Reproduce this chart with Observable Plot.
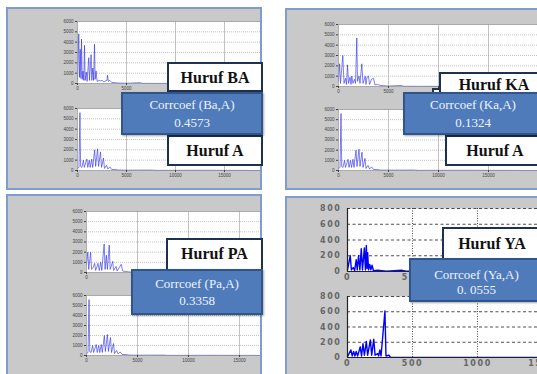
<!DOCTYPE html>
<html><head><meta charset="utf-8">
<script src="https://cdn.jsdelivr.net/npm/d3@7"></script>
<script src="https://cdn.jsdelivr.net/npm/@observablehq/plot@0.6"></script>
<style>
html,body{margin:0;padding:0;background:#fff;}
#stage{position:relative;width:537px;height:374px;overflow:hidden;background:#fff;}
.panel{position:absolute;background:#c9c9c9;overflow:hidden;}
.pborder{position:absolute;left:0;top:0;right:0;bottom:0;border:2px solid #7d9dd1;box-sizing:border-box;pointer-events:none;}
.name{position:absolute;background:#fff;border:2px solid #1e3150;box-sizing:border-box;font-family:"Liberation Serif","Times New Roman","DejaVu Serif",serif;font-weight:bold;font-size:16px;color:#111;display:flex;align-items:center;justify-content:center;white-space:nowrap;}
.corr{position:absolute;background:#4f7bbb;border:2px solid #30558a;box-sizing:border-box;font-family:"Liberation Serif","Times New Roman","DejaVu Serif",serif;font-size:13px;color:#eef3fb;display:flex;flex-direction:column;align-items:center;justify-content:center;white-space:nowrap;box-shadow:1px 1px 2px rgba(0,0,0,0.35);}
</style>
</head><body>
<div id="stage"></div>
<script>
// ---- data (frequency Hz, amplitude) ----
const freqBA = [0,130,200,280,350,410,480,560,640,714,780,900,980,1150,1220,1390,1460,1560,1640,1735,1800,1900,2000,2200,2350,2500,2700,2850,3000,3060,3150,3300,3500,3800,4200,5000,6400,6600,20000];
const ampBA  = [300,4800,600,3300,500,4300,400,1200,300,3700,300,1100,200,2500,300,2800,300,1500,300,3800,400,1200,200,300,250,300,150,250,300,800,200,300,100,80,40,20,80,10,0];

const freqA = [0,150,250,320,450,600,700,950,1050,1200,1300,1450,1550,1750,1850,2050,2150,2350,2450,2650,2750,2950,3100,3300,3500,3800,4200,5000,7500,8000,12000,20000];
const ampA  = [200,300,5600,400,300,1000,300,1100,300,1000,300,1100,300,2000,400,2100,400,1800,300,1200,200,500,150,350,100,100,40,30,40,10,20,0];

const freqKA = [0,100,200,430,550,700,800,900,1000,1150,1250,1330,1450,1600,1700,1830,1900,2050,2150,2330,2450,2670,2750,2850,3000,3100,3300,3500,3650,3900,4200,5000,6300,6500,20000];
const ampKA  = [500,2200,300,3000,300,800,200,2100,300,900,200,1000,300,700,300,4700,500,1000,300,2200,300,1000,200,900,1000,200,700,800,150,200,100,40,100,20,0];

const freqPA = [0,130,220,400,500,650,800,900,1130,1250,1400,1500,1730,1820,1950,2050,2230,2320,2570,2660,2900,3000,3400,3550,3800,4300,5000,20000];
const ampPA  = [800,2000,300,2000,300,500,900,200,900,200,1000,200,2800,300,1700,300,2700,300,1100,200,600,150,800,150,100,40,20,0];

const freqYA = [0,21,30,45,55,67,75,85,95,106,115,130,138,145,150,155,162,171,180,189,200,230,300,420,450,2000];
const ampYA  = [20,200,20,50,10,150,20,200,20,290,20,300,20,330,40,240,20,90,20,80,10,15,5,15,5,0];

const freqA2 = [0,26,36,47,57,67,78,98,108,119,130,145,155,176,186,202,212,233,240,249,258,288,296,319,330,2000];
const ampA2  = [10,100,20,80,20,80,20,140,20,180,30,210,30,230,30,240,30,50,20,100,20,610,20,30,5,0];

const ticksBig = [0,1000,2000,3000,4000,5000,6000];
const ticksHz = [0,5000,10000,15000];
const gridHz = [5000,10000,15000];
const ticksSmallY = [0,200,400,600,800];
const ticksSmallX = [0,500,1000,1500];

const labels = [
  {name:"Huruf BA", corr:"Corrcoef (Ba,A)", val:"0.4573", second:"Huruf A"},
  {name:"Huruf KA", corr:"Corrcoef (Ka,A)", val:"0.1324", second:"Huruf A"},
  {name:"Huruf PA", corr:"Corrcoef (Pa,A)", val:"0.3358"},
  {name:"Huruf YA", corr:"Corrcoef (Ya,A)", val:"0. 0555"}
];

// ---- layout ----
const stage = document.getElementById("stage");
const panels = [
  {l:6,t:7,w:256,h:183},
  {l:285,t:8,w:260,h:182},
  {l:6,t:194,w:256,h:190},
  {l:285,t:196,w:260,h:190}
];
const pEls = panels.map(p=>{
  const d=document.createElement("div");
  d.className="panel";
  Object.assign(d.style,{left:p.l+"px",top:p.t+"px",width:p.w+"px",height:p.h+"px"});
  stage.appendChild(d);
  return d;
});

const styleA = {ml:32,mt:4,mr:2,mb:12,fs:"4.5px",ff:"Liberation Sans",fw:"normal",tc:"#444",ls:"0px",
  gc:"#9a9a9a",gdash:"1,1",gxdash:null,gw:0.6,lc:"#2a2ae8",lw:0.75,lo:0.8,ts:2,tp:2,tpx:1,frame:"#9a9a9a",axisLine:null};
const styleB = {ml:44,mt:6,mr:2,mb:14,fs:"8px",ff:"DejaVu Sans",fw:"bold",tc:"#666",ls:"1.6px",
  gc:"#222",gdash:"3,2.5",gxdash:"1,1.5",gw:0.8,lc:"#0000ff",lw:1.4,lo:1,ts:0,tp:6,tpx:3,frame:null,axisLine:"#222"};

function spec(pi, o, s){
  const p = panels[pi];
  const data = o.f.map((f,i)=>({f, a:o.a[i]}));
  const marks = [
    Plot.frame({fill:"#fff", stroke:"none"}),
    Plot.gridY({ticks:o.yTicks, stroke:s.gc, strokeOpacity:1, strokeDasharray:s.gdash, strokeWidth:s.gw}),
    Plot.gridX({ticks:o.xGrid, stroke:s.gc, strokeOpacity:1, strokeDasharray:s.gxdash, strokeWidth:s.gw}),
    Plot.lineY(data, {x:"f", y:"a", stroke:s.lc, strokeWidth:s.lw, strokeOpacity:s.lo, curve:"linear"})
  ];
  if (s.frame) marks.push(Plot.frame({stroke:s.frame, strokeWidth:0.7}));
  if (s.axisLine) {
    marks.push(Plot.ruleX([0], {stroke:s.axisLine, strokeWidth:1.2}));
    marks.push(Plot.ruleY([0], {stroke:s.axisLine, strokeWidth:1.2}));
  }
  marks.push(Plot.axisY({ticks:o.yTicks, tickSize:s.ts, tickPadding:s.tp, tickFormat:d=>String(d)}));
  marks.push(Plot.axisX({ticks:o.xTicks, tickSize:s.ts, tickPadding:s.tpx, tickFormat:d=>String(d)}));
  const fig = Plot.plot({
    width:s.ml+o.w+s.mr, height:s.mt+o.h+s.mb,
    marginLeft:s.ml, marginTop:s.mt, marginRight:s.mr, marginBottom:s.mb,
    x:{domain:[0,o.xMax], label:null},
    y:{domain:[0,o.yMax], label:null},
    style:{background:"transparent", fontSize:s.fs, fontFamily:s.ff, fontWeight:s.fw, color:s.tc, letterSpacing:s.ls, overflow:"visible", maxWidth:"none"},
    marks
  });
  fig.style.position="absolute";
  fig.style.maxWidth="none";
  fig.style.left=(o.x0-s.ml-p.l)+"px";
  fig.style.top=(o.y0-s.mt-p.t)+"px";
  pEls[pi].appendChild(fig);
}

// panel 1
spec(0,{f:freqBA,a:ampBA,x0:77,y0:21,w:196,h:62,xMax:20000,yMax:6000,xTicks:ticksHz,xGrid:gridHz,yTicks:ticksBig},styleA);
spec(0,{f:freqA,a:ampA,x0:77,y0:108,w:196,h:62,xMax:20000,yMax:6000,xTicks:ticksHz,xGrid:gridHz,yTicks:ticksBig},styleA);
// panel 2
spec(1,{f:freqKA,a:ampKA,x0:338,y0:24,w:200,h:62,xMax:20000,yMax:6000,xTicks:ticksHz,xGrid:gridHz,yTicks:ticksBig},styleA);
spec(1,{f:freqA,a:ampA,x0:338,y0:109,w:200,h:61,xMax:20000,yMax:6000,xTicks:ticksHz,xGrid:gridHz,yTicks:ticksBig},styleA);
// panel 3
spec(2,{f:freqPA,a:ampPA,x0:86,y0:211,w:204,h:61,xMax:20000,yMax:6000,xTicks:ticksHz,xGrid:gridHz,yTicks:ticksBig},styleA);
spec(2,{f:freqA,a:ampA,x0:86,y0:295,w:204,h:60,xMax:20000,yMax:6000,xTicks:ticksHz,xGrid:gridHz,yTicks:ticksBig},styleA);
// panel 4
spec(3,{f:freqYA,a:ampYA,x0:347,y0:208,w:260,h:63,xMax:2000,yMax:800,xTicks:ticksSmallX,xGrid:[500,1000,1500],yTicks:ticksSmallY},styleB);
spec(3,{f:freqA2,a:ampA2,x0:347,y0:296,w:260,h:61,xMax:2000,yMax:800,xTicks:ticksSmallX,xGrid:[500,1000,1500],yTicks:ticksSmallY},styleB);

pEls.forEach(d=>{const b=document.createElement("div");b.className="pborder";d.appendChild(b);});

// ---- label boxes ----
function box(cls, x, y, w, h, lines, extra){
  const d=document.createElement("div");
  d.className=cls;
  Object.assign(d.style,{left:x+"px",top:y+"px",width:w+"px",height:h+"px"}, extra||{});
  lines.forEach(t=>{const s=document.createElement("div");s.textContent=t;d.appendChild(s);});
  stage.appendChild(d);
}
box("name",432,88,95,20,[]);
box("name",167,62,96,30,[labels[0].name],{alignItems:"flex-start",paddingTop:"5px"});
box("name",167,135,96,31,[labels[0].second]);
box("name",439,72,110,22,[labels[1].name],{alignItems:"flex-start",paddingTop:"2px"});
box("name",445,135,100,31,[labels[1].second]);
box("name",166,238,97,34,[labels[2].name],{alignItems:"flex-start",paddingTop:"5px"});
box("name",442,227,100,36,[labels[3].name],{alignItems:"flex-start",paddingTop:"6px"});

box("corr",121,92,142,43,[labels[0].corr,labels[0].val],{lineHeight:"18px"});
box("corr",403,92,140,43,[labels[1].corr,labels[1].val],{lineHeight:"18px"});
box("corr",131,269,132,46,[labels[2].corr,labels[2].val],{lineHeight:"17px"});
box("corr",409,258,135,44,[labels[3].corr,labels[3].val],{lineHeight:"15px",paddingTop:"3px"});
</script>
</body></html>
